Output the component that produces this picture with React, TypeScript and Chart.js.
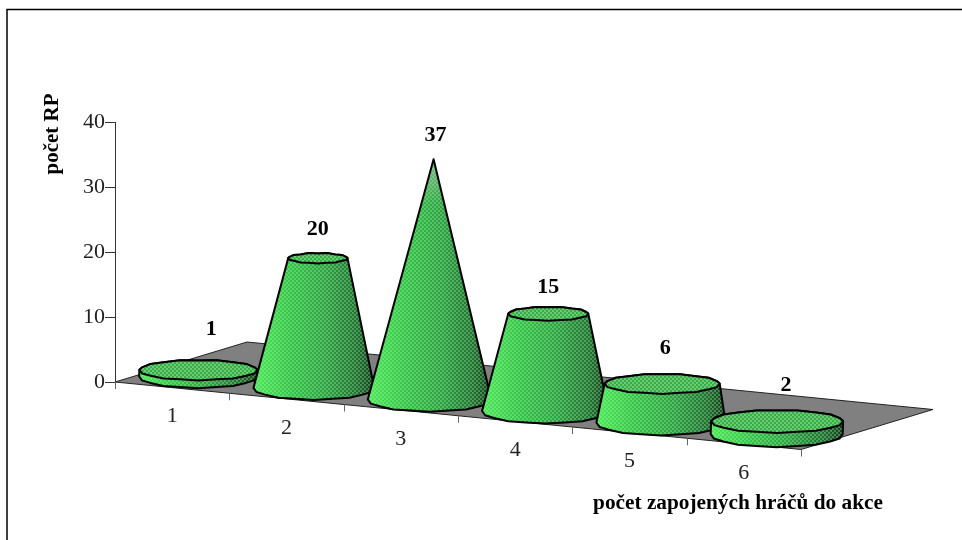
import React, { useEffect, useRef } from "react";
import { Chart, registerables } from "chart.js";

Chart.register(...registerables);

const categories = ["1", "2", "3", "4", "5", "6"];
const counts = [1, 20, 37, 15, 6, 2];
const yTickStep = 10;
const yMax = 40;
const yTitle = "počet RP";
const xTitle = "počet zapojených hráčů do akce";

const SERIF = '"Liberation Serif", "Times New Roman", serif';
const SKEW = 0.0984;
const DEPTH = { x: 132, y: -40 };
const SEGMENTS = 20;
const WOBBLE = 0.3;
const LABEL_NUDGE = [
  { x: 13, y: 41 },
  { x: 0, y: 29 },
  { x: 2, y: 24 },
  { x: 0, y: 26 },
  { x: 3, y: 36 },
  { x: 9, y: 36 },
];

function makeDither(ctx: CanvasRenderingContext2D, color: string) {
  const c = document.createElement("canvas");
  c.width = 4;
  c.height = 4;
  const g = c.getContext("2d")!;
  g.fillStyle = color;
  g.fillRect(0, 0, 2, 2);
  g.fillRect(2, 2, 2, 2);
  return ctx.createPattern(c, "repeat")!;
}

function ellipsePts(cx: number, cy: number, a: number, b: number, from: number, to: number) {
  const pts: [number, number][] = [];
  const n = Math.max(1, Math.round((SEGMENTS * Math.abs(to - from)) / (2 * Math.PI)));
  for (let i = 0; i <= n; i++) {
    const t = from + ((to - from) * i) / n;
    const w = i % 2 ? WOBBLE : -WOBBLE;
    pts.push([cx + a * Math.cos(t), cy + b * Math.sin(t) + w]);
  }
  return pts;
}

function tracePts(ctx: CanvasRenderingContext2D, pts: [number, number][]) {
  ctx.beginPath();
  pts.forEach(([x, y], i) => (i ? ctx.lineTo(x, y) : ctx.moveTo(x, y)));
  ctx.closePath();
}

const cones3d = {
  id: "cones3d",
  beforeDraw(chart: any) {
    const { ctx } = chart;
    ctx.save();
    ctx.strokeStyle = "#000";
    ctx.lineWidth = 1.5;
    ctx.beginPath();
    ctx.moveTo(7, 540);
    ctx.lineTo(7, 9.5);
    ctx.lineTo(962, 9.5);
    ctx.stroke();
    ctx.restore();
  },
  beforeDatasetsDraw(chart: any) {
    const { ctx, scales } = chart;
    const x = scales.x;
    const y = scales.y;
    const y0 = y.getPixelForValue(0);
    const floorL = x.left;
    const floorR = x.right;
    const fy = y0 + (floorR - floorL) * SKEW;
    ctx.save();
    ctx.beginPath();
    ctx.moveTo(floorL, y0);
    ctx.lineTo(floorL + DEPTH.x, y0 + DEPTH.y);
    ctx.lineTo(floorR + DEPTH.x, fy + DEPTH.y);
    ctx.lineTo(floorR, fy);
    ctx.closePath();
    ctx.fillStyle = "#808080";
    ctx.fill();
    ctx.strokeStyle = "#222";
    ctx.lineWidth = 1;
    ctx.stroke();
    ctx.restore();
  },
  afterDatasetsDraw(chart: any) {
    const { ctx, scales } = chart;
    const x = scales.x;
    const y = scales.y;
    const y0 = y.getPixelForValue(0);
    const skewY = (px: number) => y0 + (px - x.left) * SKEW;
    const peak = Math.max(...counts);
    const c0 = x.getPixelForValue(0);
    const darkDots = makeDither(ctx, "rgba(20,130,40,0.5)");
    const lightDots = makeDither(ctx, "rgba(170,255,170,0.32)");

    ctx.save();
    ctx.strokeStyle = "#666";
    ctx.lineWidth = 1;
    for (let i = 0; i <= categories.length; i++) {
      const px = x.left + ((x.right - x.left) * i) / categories.length;
      ctx.beginPath();
      ctx.moveTo(Math.round(px) + 0.5, skewY(px));
      ctx.lineTo(Math.round(px) + 0.5, skewY(px) + 7);
      ctx.stroke();
    }

    counts.forEach((v, i) => {
      const cat = x.getPixelForValue(i);
      const axisY = skewY(cat);
      const cx = cat + 26 + (cat - c0) * 0.012;
      const cy = axisY - 11 + i * 0.3;
      const a = 59 + i * 1.4;
      const b = a * 0.19;
      const ratio = 1 - v / peak;
      const ta = Math.min(a, (a + 4) * ratio);
      const tb = ta * 0.17;
      const tx = cx + Math.min(v * 0.2, 4);
      const ty = y.getPixelForValue(v) + (cy - y0);

      const side = [
        ...ellipsePts(cx, cy, a, b, 0, Math.PI),
        ...(ta > 0 ? ellipsePts(tx, ty, ta, tb, Math.PI, 2 * Math.PI) : ([[tx, ty]] as [number, number][])),
      ];
      const grad = ctx.createLinearGradient(cx - a, 0, cx + a, 0);
      grad.addColorStop(0, "#4ee85a");
      grad.addColorStop(0.3, "#36c24a");
      grad.addColorStop(0.6, "#2f9f45");
      grad.addColorStop(0.85, "#226f33");
      grad.addColorStop(1, "#153a1e");
      tracePts(ctx, side);
      ctx.fillStyle = grad;
      ctx.fill();
      ctx.fillStyle = lightDots;
      ctx.fill();
      if (ta === 0) {
        const fade = ctx.createLinearGradient(0, ty, 0, ty + 45);
        fade.addColorStop(0, "rgba(190,200,190,0.6)");
        fade.addColorStop(1, "rgba(190,200,190,0)");
        ctx.fillStyle = fade;
        ctx.fill();
      }
      ctx.lineJoin = "round";
      ctx.lineWidth = 2;
      ctx.strokeStyle = "#000";
      ctx.stroke();

      if (ta > 0) {
        tracePts(ctx, ellipsePts(tx, ty, ta, tb, 0, 2 * Math.PI));
        ctx.fillStyle = "#66cf70";
        ctx.fill();
        ctx.fillStyle = darkDots;
        ctx.fill();
        ctx.lineWidth = 2;
        ctx.strokeStyle = "#000";
        ctx.stroke();
      }

      const nudge = LABEL_NUDGE[i];
      ctx.fillStyle = "#000";
      ctx.textAlign = "center";
      ctx.textBaseline = "middle";
      ctx.font = `bold 22px ${SERIF}`;
      ctx.fillText(String(v), tx + nudge.x, ty - nudge.y);

      ctx.font = `22px ${SERIF}`;
      ctx.fillStyle = "#222";
      ctx.fillText(categories[i], cat, axisY + 29);
    });

    ctx.fillStyle = "#000";
    ctx.textAlign = "center";
    ctx.textBaseline = "middle";
    ctx.font = `bold 21.3px ${SERIF}`;
    ctx.fillText(xTitle, 738, 503);
    ctx.font = `bold 21px ${SERIF}`;
    ctx.translate(53, 134);
    ctx.rotate(-Math.PI / 2);
    ctx.fillText(yTitle, 0, 0);
    ctx.restore();
  },
};

export default function App() {
  const ref = useRef<HTMLCanvasElement>(null);
  useEffect(() => {
    const chart = new Chart(ref.current!, {
      type: "bar",
      data: {
        labels: categories,
        datasets: [{ data: counts, backgroundColor: "transparent", borderWidth: 0 }],
      },
      options: {
        animation: false,
        responsive: false,
        devicePixelRatio: 1,
        layout: { padding: { left: 0, right: 161, top: 122, bottom: 158 } },
        plugins: { legend: { display: false }, tooltip: { enabled: false } },
        scales: {
          x: { display: false },
          y: {
            min: 0,
            max: yMax,
            afterFit: (s: any) => {
              s.width = 115;
            },
            border: { display: true, color: "#333", width: 1 },
            grid: { drawOnChartArea: false, tickLength: 10, color: "#333" },
            ticks: {
              stepSize: yTickStep,
              padding: 0,
              color: "#222",
              font: { family: "Liberation Serif", size: 22 },
            },
          },
        },
      },
      plugins: [cones3d],
    } as any);
    return () => chart.destroy();
  }, []);
  return (
    <div style={{ position: "fixed", left: 0, top: 0, width: 962, height: 540, background: "#fff" }}>
      <canvas ref={ref} width={962} height={540} style={{ display: "block" }} />
    </div>
  );
}
